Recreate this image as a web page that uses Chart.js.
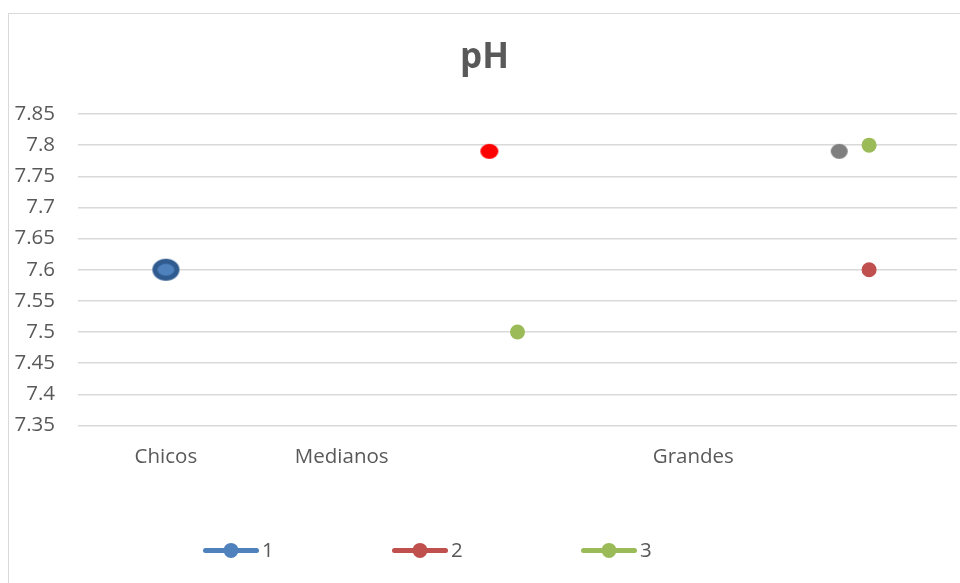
<!DOCTYPE html>
<html>
<head>
<meta charset="utf-8">
<title>pH</title>
<script src="https://cdn.jsdelivr.net/npm/chart.js@4.4.1/dist/chart.umd.min.js"></script>
<style>
  html, body { margin: 0; padding: 0; background: #fff; overflow: hidden; }
  #frame {
    position: absolute; left: 8px; top: 13px;
    width: 964px; height: 592px;
    border: 1px solid #d9d9d9;
  }
  #grafico { display: block; }
</style>
</head>
<body>
<div id="frame"><canvas id="grafico" width="962" height="590"></canvas></div>
<script>
// categories along the bottom (empty slots carry no label)
var categories = ['Chicos', 'Medianos', '', 'Grandes', ''];
var seriesNames = ['1', '2', '3'];
var seriesColors = ['#4F81BD', '#C0504D', '#9BBB59'];

// x = slot on the category axis (1 = Chicos), y = pH
var serie1X = [1];
var serie1Y = [7.6];
var serie2X = [2.84, 5];
var serie2Y = [7.79, 7.6];
var serie3X = [3, 5];
var serie3Y = [7.5, 7.8];
var sueltoX = [4.83];
var sueltoY = [7.79];

var yTicks = [7.35, 7.4, 7.45, 7.5, 7.55, 7.6, 7.65, 7.7, 7.75, 7.8, 7.85];

var FONT = '"Open Sans", "Liberation Sans", sans-serif';
var GRIS = '#595959';

function puntos(xs, ys) {
  var out = [];
  for (var i in xs) {
    out.push({ x: xs[i], y: ys[i] });
  }
  return out;
}

// oval marker drawn on a small canvas, used as pointStyle
function ovalo(w, h, fill, stroke, lw) {
  var c = document.createElement('canvas');
  c.width = w + 2;
  c.height = h + 2;
  var g = c.getContext('2d');
  g.beginPath();
  g.ellipse(c.width / 2, c.height / 2, w / 2 - (lw || 0) / 2, h / 2 - (lw || 0) / 2, 0, 0, Math.PI * 2);
  g.fillStyle = fill;
  g.fill();
  if (stroke) {
    g.lineWidth = lw;
    g.strokeStyle = stroke;
    g.stroke();
  }
  return c;
}

var marcaAzul = ovalo(27, 22, '#4F81BD', '#2F5B8F', 5);
var marcaRoja = ovalo(18, 15, '#FF0000');
var marcaGris = ovalo(17, 15, '#7F7F7F');

// legend with line + dot, laid out under the plot
var leyenda = {
  id: 'leyenda',
  afterDraw: function(chart) {
    var ctx = chart.ctx;
    var area = chart.chartArea;
    var y = area.bottom + 125;
    ctx.save();
    for (var i = 0; i < seriesNames.length; i++) {
      var x0 = area.left + 125 + i * 189;
      ctx.strokeStyle = seriesColors[i];
      ctx.lineWidth = 5;
      ctx.lineCap = 'round';
      ctx.beginPath();
      ctx.moveTo(x0 + 2.5, y);
      ctx.lineTo(x0 + 53.5, y);
      ctx.stroke();
      ctx.fillStyle = seriesColors[i];
      ctx.beginPath();
      ctx.arc(x0 + 28, y, 7.5, 0, Math.PI * 2);
      ctx.fill();
      ctx.fillStyle = GRIS;
      ctx.font = '20.5px ' + FONT;
      ctx.textBaseline = 'middle';
      ctx.textAlign = 'left';
      ctx.fillText(seriesNames[i], x0 + 59, y + 1);
    }
    ctx.restore();
  }
};

var chartdata = {
  datasets: [
    {
      label: seriesNames[0],
      data: puntos(serie1X, serie1Y),
      pointStyle: marcaAzul,
      backgroundColor: seriesColors[0],
      borderColor: seriesColors[0]
    },
    {
      label: seriesNames[1],
      data: puntos(serie2X, serie2Y),
      pointStyle: [marcaRoja, 'circle'],
      pointRadius: 7.5,
      pointBorderWidth: 0,
      backgroundColor: seriesColors[1],
      borderColor: seriesColors[1]
    },
    {
      label: seriesNames[2],
      data: puntos(serie3X, serie3Y),
      pointStyle: 'circle',
      pointRadius: 7.5,
      pointBorderWidth: 0,
      backgroundColor: seriesColors[2],
      borderColor: seriesColors[2]
    },
    {
      label: '',
      data: puntos(sueltoX, sueltoY),
      pointStyle: marcaGris,
      backgroundColor: '#7F7F7F',
      borderColor: '#7F7F7F'
    }
  ]
};

var ctx = document.getElementById('grafico');

var scatter = new Chart(ctx,
{
  type: 'scatter',
  data: chartdata,
  plugins: [leyenda],
  options: {
    responsive: false,
    animation: false,
    events: [],
    layout: { padding: { left: 3, right: 14, top: 0, bottom: 116 } },
    plugins: {
      legend: { display: false },
      tooltip: { enabled: false },
      title: {
        display: true,
        text: 'pH',
        color: GRIS,
        font: { family: FONT, size: 35, weight: 'bold' },
        padding: { top: 23, bottom: 35 }
      }
    },
    scales: {
      x: {
        type: 'linear',
        min: 0.5,
        max: 5.5,
        afterBuildTicks: function(axis) {
          axis.ticks = categories.map(function(c, i) { return { value: i + 1 }; });
        },
        ticks: {
          autoSkip: false,
          maxRotation: 0,
          padding: 19,
          color: GRIS,
          font: { family: FONT, size: 20.5 },
          callback: function(value) { return categories[Math.round(value) - 1]; }
        },
        grid: { display: false, drawTicks: false },
        border: { display: false }
      },
      y: {
        min: 7.35,
        max: 7.85,
        afterBuildTicks: function(axis) {
          axis.ticks = yTicks.map(function(v) { return { value: v }; });
        },
        afterFit: function(axis) {
          axis.width = 66;
        },
        ticks: {
          padding: 23,
          color: GRIS,
          font: { family: FONT, size: 20.5 },
          callback: function(value) { return String(parseFloat(value.toFixed(2))); }
        },
        grid: { color: '#d9d9d9', lineWidth: 1.5, drawTicks: false },
        border: { display: false }
      }
    }
  }
});
</script>
</body>
</html>
